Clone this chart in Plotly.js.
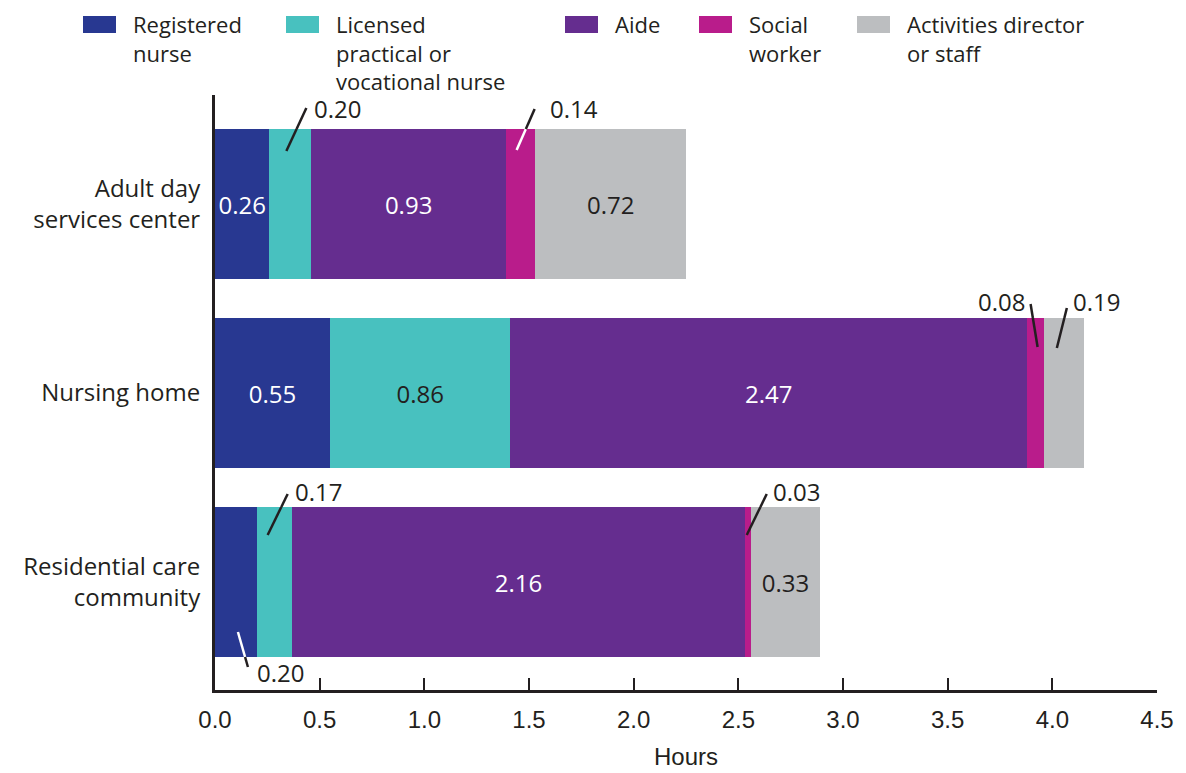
<!DOCTYPE html>
<html>
<head>
<meta charset="utf-8">
<script src="https://cdn.plot.ly/plotly-3.0.1.min.js"></script>
<style>
  html, body { margin: 0; padding: 0; background: #ffffff; }
  #chart { width: 1186px; height: 773px; }
</style>
</head>
<body>
<div id="chart"></div>
<script>
// Average hours of care per resident per day, by staff type and care setting
const settings = ['Adult day services center', 'Nursing home', 'Residential care community'];
const settingLabels = ['Adult day<br>services center', 'Nursing home', 'Residential care<br>community'];
const staffTypes = ['Registered nurse', 'Licensed practical or vocational nurse', 'Aide', 'Social worker', 'Activities director or staff'];
const legendLabels = ['Registered<br>nurse', 'Licensed<br>practical or<br>vocational nurse', 'Aide', 'Social<br>worker', 'Activities director<br>or staff'];

const registeredNurse = [0.26, 0.55, 0.20];
const practicalNurse  = [0.20, 0.86, 0.17];
const aide            = [0.93, 2.47, 2.16];
const socialWorker    = [0.14, 0.08, 0.03];
const activitiesStaff = [0.72, 0.19, 0.33];
const xTickValues = [0.0, 0.5, 1.0, 1.5, 2.0, 2.5, 3.0, 3.5, 4.0, 4.5];

const series = [registeredNurse, practicalNurse, aide, socialWorker, activitiesStaff];

// ---- styling ----
const INK = '#231f20';
const colors = ['#283891', '#48c1bf', '#652d8f', '#b91c8b', '#bcbec0'];
const labelColors = ['#ffffff', INK, '#ffffff', '#ffffff', INK];
const TEXT_FONT = 'Open Sans, DejaVu Sans, sans-serif';
const NUM_FONT = 'Liberation Sans, Arial, sans-serif';
const FS = 24;
const BARGAP = 0.206;
const HALF = (1 - BARGAP) / 2;

// Segments whose value sits outside the bar with a leader line.
// Offsets are in pixels from the segment centre on the bar edge (positive = down).
const callouts = [
  { s: 1, r: 0, edge: 'top',    line: [[-4, 22], [16, -21]], text: [22, -20], align: 'left',  inner: INK },
  { s: 3, r: 0, edge: 'top',    line: [[-4, 21], [14, -20]], text: [27, -20], align: 'left',  inner: '#ffffff' },
  { s: 3, r: 1, edge: 'top',    line: [[-5, -14], [2, 29]],  text: [-9, -16], align: 'right', inner: INK },
  { s: 4, r: 1, edge: 'top',    line: [[-7, 30], [3, -10]],  text: [7, -16],  align: 'left',  inner: INK },
  { s: 1, r: 2, edge: 'top',    line: [[-7, 28], [13, -13]], text: [18, -15], align: 'left',  inner: INK },
  { s: 3, r: 2, edge: 'top',    line: [[-1, 28], [19, -13]], text: [23, -15], align: 'left',  inner: INK },
  { s: 0, r: 2, edge: 'bottom', line: [[2, -25], [12, 10]],  text: [19, 15],  align: 'left',  inner: '#ffffff' }
];

// cumulative start of each segment
function segStart(s, r) {
  let acc = 0;
  for (let k = 0; k < s; k++) acc += series[k][r];
  return acc;
}
function segCentre(s, r) { return segStart(s, r) + series[s][r] / 2; }

const traces = series.map((vals, s) => {
  const pos = vals.map((v, r) => callouts.some(c => c.s === s && c.r === r) ? 'none' : 'inside');
  return {
    type: 'bar',
    orientation: 'h',
    name: staffTypes[s],
    x: vals,
    y: [0, 1, 2],
    marker: { color: colors[s], line: { width: 0 } },
    text: vals.map(v => v.toFixed(2)),
    textposition: pos,
    insidetextanchor: 'middle',
    textangle: 0,
    constraintext: 'none',
    textfont: { family: TEXT_FONT, size: FS, color: labelColors[s] },
    hoverinfo: 'none',
    showlegend: false
  };
});

const shapes = [];
const annotations = [];

callouts.forEach(c => {
  const xa = segCentre(c.s, c.r);
  const ya = c.edge === 'top' ? c.r - HALF : c.r + HALF;
  const [p0, p1] = c.line;
  // split where the leader crosses the bar edge (offset y = 0)
  const t = p0[1] / (p0[1] - p1[1]);
  const mid = [p0[0] + (p1[0] - p0[0]) * t, 0];
  const insideFirst = c.edge === 'top' ? p0[1] > 0 : p0[1] < 0;
  const pieces = [[p0, mid, insideFirst ? c.inner : INK], [mid, p1, insideFirst ? INK : c.inner]];
  pieces.forEach(([a, b, col]) => {
    shapes.push({
      type: 'line', xref: 'x', yref: 'y',
      xsizemode: 'pixel', ysizemode: 'pixel',
      xanchor: xa, yanchor: ya,
      x0: a[0], x1: b[0], y0: -a[1], y1: -b[1],
      line: { color: col, width: 2.5 }
    });
  });
  annotations.push({
    xref: 'x', yref: 'y', x: xa, y: ya,
    xshift: c.text[0], yshift: -c.text[1],
    xanchor: c.align, yanchor: 'middle',
    text: series[c.s][c.r].toFixed(2),
    showarrow: false,
    font: { family: TEXT_FONT, size: FS, color: INK }
  });
});

// ---- legend drawn along the top ----
const L = 215, T = 95, W = 942, H = 595;
const px = v => (v - L) / W;
const py = v => (T + H - v) / H;
const legendSwatchX = [83, 286, 565, 699, 857];
const SW_W = 33, SW_Y0 = 16, SW_Y1 = 33, TEXT_GAP = 15, LEG_FS = 22;
legendLabels.forEach((label, s) => {
  const x0 = legendSwatchX[s];
  shapes.push({
    type: 'rect', xref: 'paper', yref: 'paper',
    x0: px(x0), x1: px(x0 + SW_W), y0: py(SW_Y0), y1: py(SW_Y1),
    fillcolor: colors[s], line: { width: 0 }
  });
  annotations.push({
    xref: 'paper', yref: 'paper',
    x: px(x0 + SW_W + TEXT_GAP), y: py(7),
    xanchor: 'left', yanchor: 'top', align: 'left',
    text: label, showarrow: false,
    font: { family: TEXT_FONT, size: LEG_FS, color: INK }
  });
});

// axis title
annotations.push({
  xref: 'paper', yref: 'paper', x: 0.5, y: py(772),
  xanchor: 'center', yanchor: 'bottom', text: 'Hours', showarrow: false,
  font: { family: NUM_FONT, size: FS, color: INK }
});

const layout = {
  width: 1186, height: 773,
  margin: { l: L, r: 1186 - L - W, t: T, b: 773 - T - H, pad: 0 },
  paper_bgcolor: '#ffffff', plot_bgcolor: '#ffffff',
  barmode: 'stack',
  bargap: BARGAP,
  showlegend: false,
  xaxis: {
    range: [0, 4.5], tickvals: xTickValues, tickformat: '.1f',
    ticks: 'inside', ticklen: 12, tickwidth: 2, tickcolor: INK,
    showline: true, linewidth: 3, linecolor: INK,
    showgrid: false, zeroline: false,
    ticklabelstandoff: 6,
    tickfont: { family: NUM_FONT, size: FS, color: INK },
    fixedrange: true
  },
  yaxis: {
    range: [2 + (690 - 582) / 189, -(204 - 95) / 189],
    tickvals: [0, 1, 2], ticktext: settingLabels,
    ticks: '', showline: true, linewidth: 3, linecolor: INK,
    showgrid: false, zeroline: false,
    ticklabelstandoff: 7,
    tickfont: { family: TEXT_FONT, size: FS, color: INK },
    fixedrange: true
  },
  shapes: shapes,
  annotations: annotations
};

Plotly.newPlot('chart', traces, layout, { displayModeBar: false, staticPlot: true });
</script>
</body>
</html>
